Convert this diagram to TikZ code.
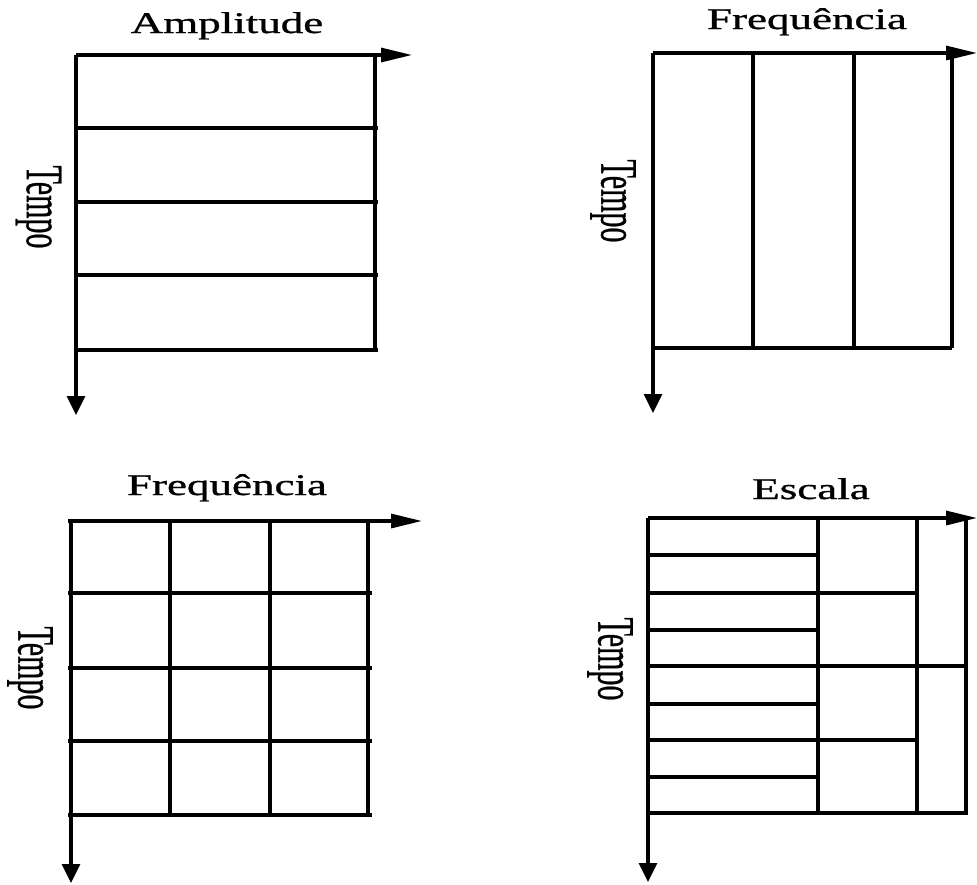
\documentclass[tikz,border=0pt]{standalone}
\usepackage{fontspec}
\usepackage{graphicx}
\setmainfont{Liberation Serif}
\newfontfamily\lblfont[FakeBold=0.8]{Liberation Serif}
\usetikzlibrary{arrows.meta}
\begin{document}
\begin{tikzpicture}[x=1pt,y=1pt,
  gridline/.style={line width=3.2pt, black},
  haxis/.style={gridline, -{Triangle[length=31pt,width=14pt]}},
  vaxis/.style={gridline, -{Triangle[length=19pt,width=18pt]}},
  head/.style={font=\lblfont\fontsize{30}{36}\selectfont, anchor=base, inner sep=0pt},
  tempo/.style={font=\lblfont\fontsize{30}{36}\selectfont, rotate=-90, inner sep=0pt}]
\path[use as bounding box] (0,0) rectangle (977,-884);

% ---------- Panel 1: Amplitude ----------
\coordinate (o1) at (76,-55);
\coordinate (x1) at (412,-55);
\coordinate (t1) at (76,-415);
\foreach \y in {128,202,275,350} \draw[gridline] (74,-\y) -- (378,-\y);
\draw[gridline] (375,-55) -- (375,-350);
\draw[haxis] (o1) -- (x1);
\draw[vaxis] (o1) -- (t1);
\node[head] (h1) at (227,-33) {\scalebox{1.5}[1]{Amplitude}};
\node[tempo] (v1) at (38.5,-207) {\scalebox{1}[1.75]{Tempo}};

% ---------- Panel 2: Frequencia (vertical bands) ----------
\coordinate (o2) at (653,-53);
\coordinate (x2) at (977,-53);
\coordinate (t2) at (653,-413);
\foreach \x in {753,854,952} \draw[gridline] (\x,-53) -- (\x,-348);
\draw[gridline] (653,-348) -- (952,-348);
\draw[haxis] (o2) -- (x2);
\draw[vaxis] (o2) -- (t2);
\node[head] (h2) at (807,-29) {\scalebox{1.5}[1]{Frequência}};
\node[tempo] (v2) at (613,-201) {\scalebox{1}[1.75]{Tempo}};

% ---------- Panel 3: Frequencia (grid) ----------
\coordinate (o3) at (71,-521);
\coordinate (x3) at (422,-521);
\coordinate (t3) at (71,-883);
\foreach \y in {593,668,741,815} \draw[gridline] (68,-\y) -- (372,-\y);
\foreach \x in {170,270,368} \draw[gridline] (\x,-521) -- (\x,-815);
\draw[gridline] (68,-521) -- (o3);
\draw[haxis] (o3) -- (x3);
\draw[vaxis] (o3) -- (t3);
\node[head] (h3) at (227,-495) {\scalebox{1.5}[1]{Frequência}};
\node[tempo] (v3) at (30,-668) {\scalebox{1}[1.75]{Tempo}};

% ---------- Panel 4: Escala ----------
\coordinate (o4) at (648,-518);
\coordinate (x4) at (977,-518);
\coordinate (t4) at (648,-882);
\foreach \y in {555,630,704,777} \draw[gridline] (646,-\y) -- (818,-\y);
\foreach \y in {593,740} \draw[gridline] (646,-\y) -- (919,-\y);
\foreach \y in {666,813} \draw[gridline] (646,-\y) -- (968,-\y);
\foreach \x in {818,917,966} \draw[gridline] (\x,-518) -- (\x,-813);
\draw[haxis] (o4) -- (x4);
\draw[vaxis] (o4) -- (t4);
\node[head] (h4) at (811,-499) {\scalebox{1.5}[1]{Escala}};
\node[tempo] (v4) at (610,-659) {\scalebox{1}[1.75]{Tempo}};
\end{tikzpicture}
\end{document}
